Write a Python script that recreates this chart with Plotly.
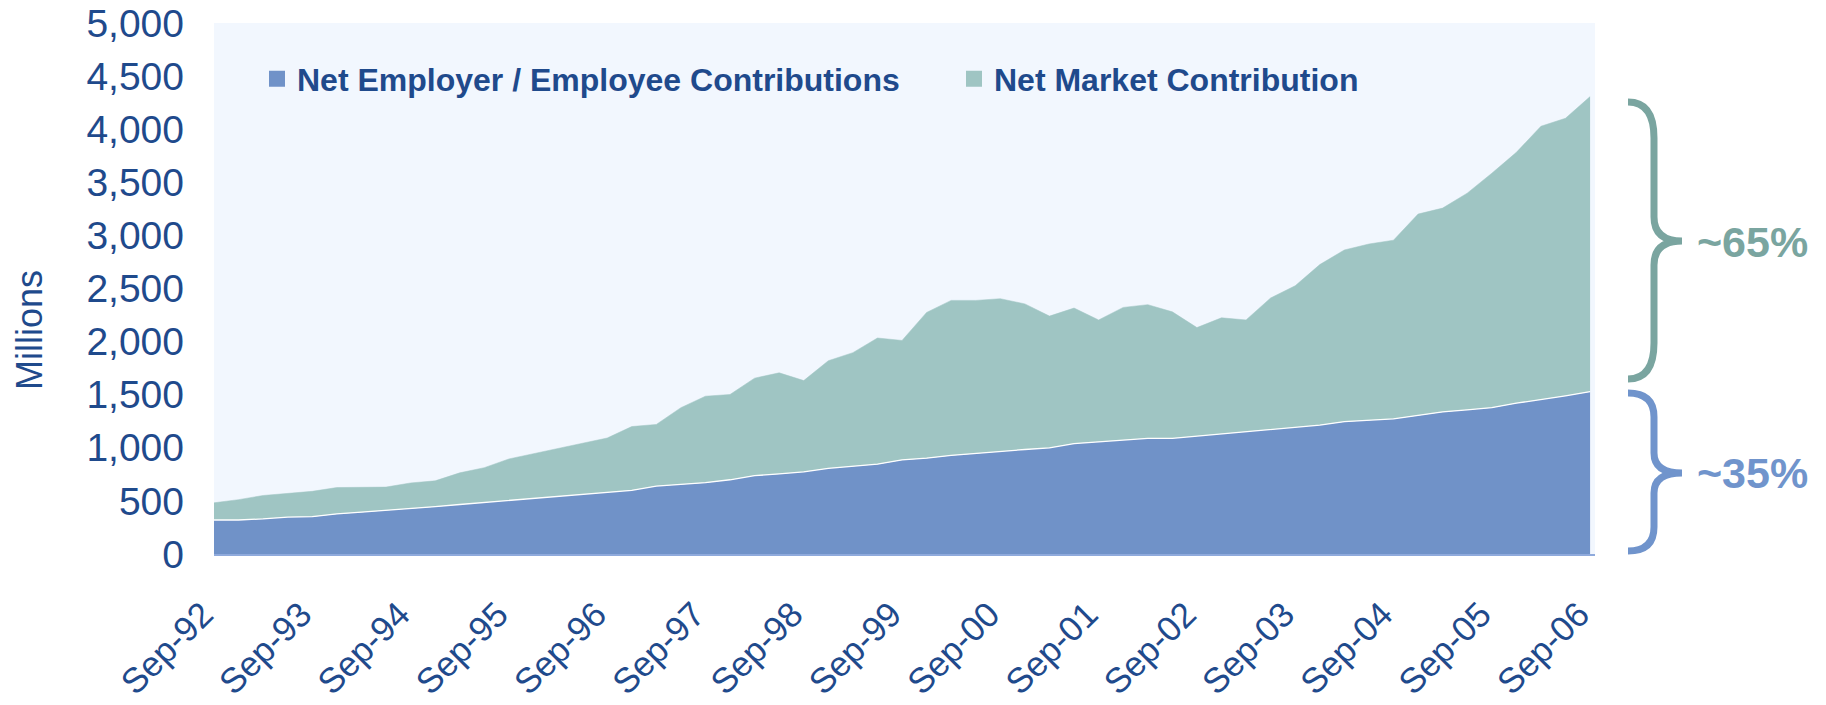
import plotly.graph_objects as go

# ---------------- data (Millions, quarterly Sep-92 .. Sep-06) ----------------
quarters = []
for yr in range(92, 107):
    for m in ["Mar", "Jun", "Sep", "Dec"]:
        quarters.append(f"{m}-{yr % 100:02d}")
quarters = quarters[quarters.index("Sep-92"):quarters.index("Sep-06") + 1]

employer_employee = [320, 320, 331, 348, 351, 377, 394, 410, 426, 446,
                     466, 485, 505, 522, 545, 561, 577, 600, 640, 659,
                     672, 699, 738, 754, 774, 807, 823, 846, 886, 902,
                     928, 948, 968, 984, 1000, 1040, 1056, 1073, 1089, 1089,
                     1109, 1132, 1151, 1174, 1194, 1214, 1246, 1256, 1273, 1305,
                     1338, 1358, 1378, 1420, 1453, 1489, 1528]
market = [162, 192, 220, 226, 239, 249, 236, 220, 243, 243,
          298, 328, 390, 423, 455, 482, 515, 600, 580, 719,
          814, 803, 918, 952, 859, 1013, 1073, 1188, 1125, 1373,
          1460, 1440, 1436, 1371, 1240, 1276, 1148, 1249, 1259, 1191,
          1023, 1092, 1053, 1237, 1332, 1511, 1617, 1663, 1682, 1896,
          1919, 2040, 2207, 2362, 2575, 2614, 2779]

tick_labels = ["Sep-92", "Sep-93", "Sep-94", "Sep-95", "Sep-96", "Sep-97", "Sep-98",
               "Sep-99", "Sep-00", "Sep-01", "Sep-02", "Sep-03", "Sep-04", "Sep-05", "Sep-06"]
y_ticks = [0, 500, 1000, 1500, 2000, 2500, 3000, 3500, 4000, 4500, 5000]

series_names = ["Net Employer / Employee Contributions", "Net Market Contribution"]
pct_labels = ["~35%", "~65%"]

# ---------------- style ----------------
W, H = 1826, 705
OFF = 8                                   # page body margin
PL, PT, PR, PB = 214, 23, 1595, 554       # plot-area edges on the page
L, T = PL - OFF, PT - OFF
R, B = W - (PR - OFF), H - (PB - OFF)
FONT = "Arial, 'Liberation Sans', sans-serif"
NAVY = "#1F4A8C"
BLUE = "#7092C8"
TEAL = "#9FC5C3"
TEAL_DARK = "#7AA5A0"
BLUE_BR = "#7094CC"

pw = PR - PL
ph = PB - PT


def px2paper(x, y):
    return (x - PL) / pw, (PB - y) / ph


fig = go.Figure()
fig.add_trace(go.Scatter(x=quarters, y=employer_employee, stackgroup="one", mode="lines",
                         line=dict(color="white", width=1.3), fillcolor=BLUE,
                         name=series_names[0], showlegend=False, hoverinfo="x+y"))
fig.add_trace(go.Scatter(x=quarters, y=market, stackgroup="one", mode="lines",
                         line=dict(color=TEAL, width=0.5), fillcolor=TEAL,
                         name=series_names[1], showlegend=False, hoverinfo="x+y"))
# legend entries with square swatches (one legend box each)
for nm, col, lgd in zip(series_names, [BLUE, TEAL], ["legend", "legend2"]):
    fig.add_trace(go.Scatter(x=[None], y=[None], mode="markers", name=nm, legend=lgd,
                             marker=dict(symbol="square", size=16, color=col)))


def brace(top, bot, mid, hook_x, spine_x, tip_x, r1, r2):
    def p(x, y):
        a, b = px2paper(x, y)
        return f"{a:.5f},{b:.5f}"
    return (f"M {p(hook_x, top)} Q {p(spine_x, top)} {p(spine_x, top + r1)} "
            f"L {p(spine_x, mid - r2)} Q {p(spine_x, mid)} {p(tip_x, mid)} "
            f"Q {p(spine_x, mid)} {p(spine_x, mid + r2)} "
            f"L {p(spine_x, bot - r1)} Q {p(spine_x, bot)} {p(hook_x, bot)}")


shapes = [
    dict(type="path", xref="paper", yref="paper",
         path=brace(102, 379, 241, 1628, 1654, 1682, 36, 24),
         line=dict(color=TEAL_DARK, width=7), layer="above"),
    dict(type="path", xref="paper", yref="paper",
         path=brace(393, 551, 473, 1628, 1654, 1682, 24, 20),
         line=dict(color=BLUE_BR, width=7), layer="above"),
]

ax65 = px2paper(1752, 242)
ax35 = px2paper(1752, 473)
mil = px2paper(29, 330)
annotations = [
    dict(text=f"<b>{pct_labels[1]}</b>", x=ax65[0], y=ax65[1], xref="paper", yref="paper",
         xanchor="center", yanchor="middle",
         showarrow=False, font=dict(family=FONT, size=43, color=TEAL_DARK)),
    dict(text=f"<b>{pct_labels[0]}</b>", x=ax35[0], y=ax35[1], xref="paper", yref="paper",
         xanchor="center", yanchor="middle",
         showarrow=False, font=dict(family=FONT, size=43, color=BLUE_BR)),
    dict(text="Millions", x=mil[0], y=mil[1], xref="paper", yref="paper", textangle=-90,
         xanchor="center", yanchor="middle",
         showarrow=False, font=dict(family=FONT, size=36, color=NAVY)),
]

lg1 = px2paper(257, 79)
lg2 = px2paper(954, 79)
legend_common = dict(orientation="h", xanchor="left", yanchor="middle",
                     bgcolor="rgba(0,0,0,0)", itemsizing="trace",
                     font=dict(family=FONT, size=32, color=NAVY, weight="bold"))

fig.update_layout(
    width=W, height=H,
    margin=dict(l=L, r=R, t=T, b=B, pad=0, autoexpand=False),
    paper_bgcolor="white", plot_bgcolor="#F2F7FE",
    font=dict(family=FONT, color=NAVY),
    shapes=shapes, annotations=annotations,
    showlegend=True,
    legend=dict(x=lg1[0], y=lg1[1], **legend_common),
    legend2=dict(x=lg2[0], y=lg2[1], **legend_common),
    xaxis=dict(type="category", range=[0, 56.2], tickmode="array", tickvals=tick_labels,
               ticktext=tick_labels, tickangle=-45, showgrid=False, zeroline=False,
               automargin=False, ticklabeloverflow="allow", ticklabelshift=-11,
               showline=True, linecolor="#8FAADC", linewidth=1.5, ticks="",
               tickfont=dict(family=FONT, size=35, color=NAVY), ticklabelstandoff=24),
    yaxis=dict(range=[0, 5000], tickmode="array", tickvals=y_ticks, tickformat=",",
               showgrid=False, zeroline=False, showline=False, ticks="", automargin=False,
               ticklabeloverflow="allow",
               tickfont=dict(family=FONT, size=39, color=NAVY), ticklabelstandoff=29),
)

fig.write_html("out.html")
